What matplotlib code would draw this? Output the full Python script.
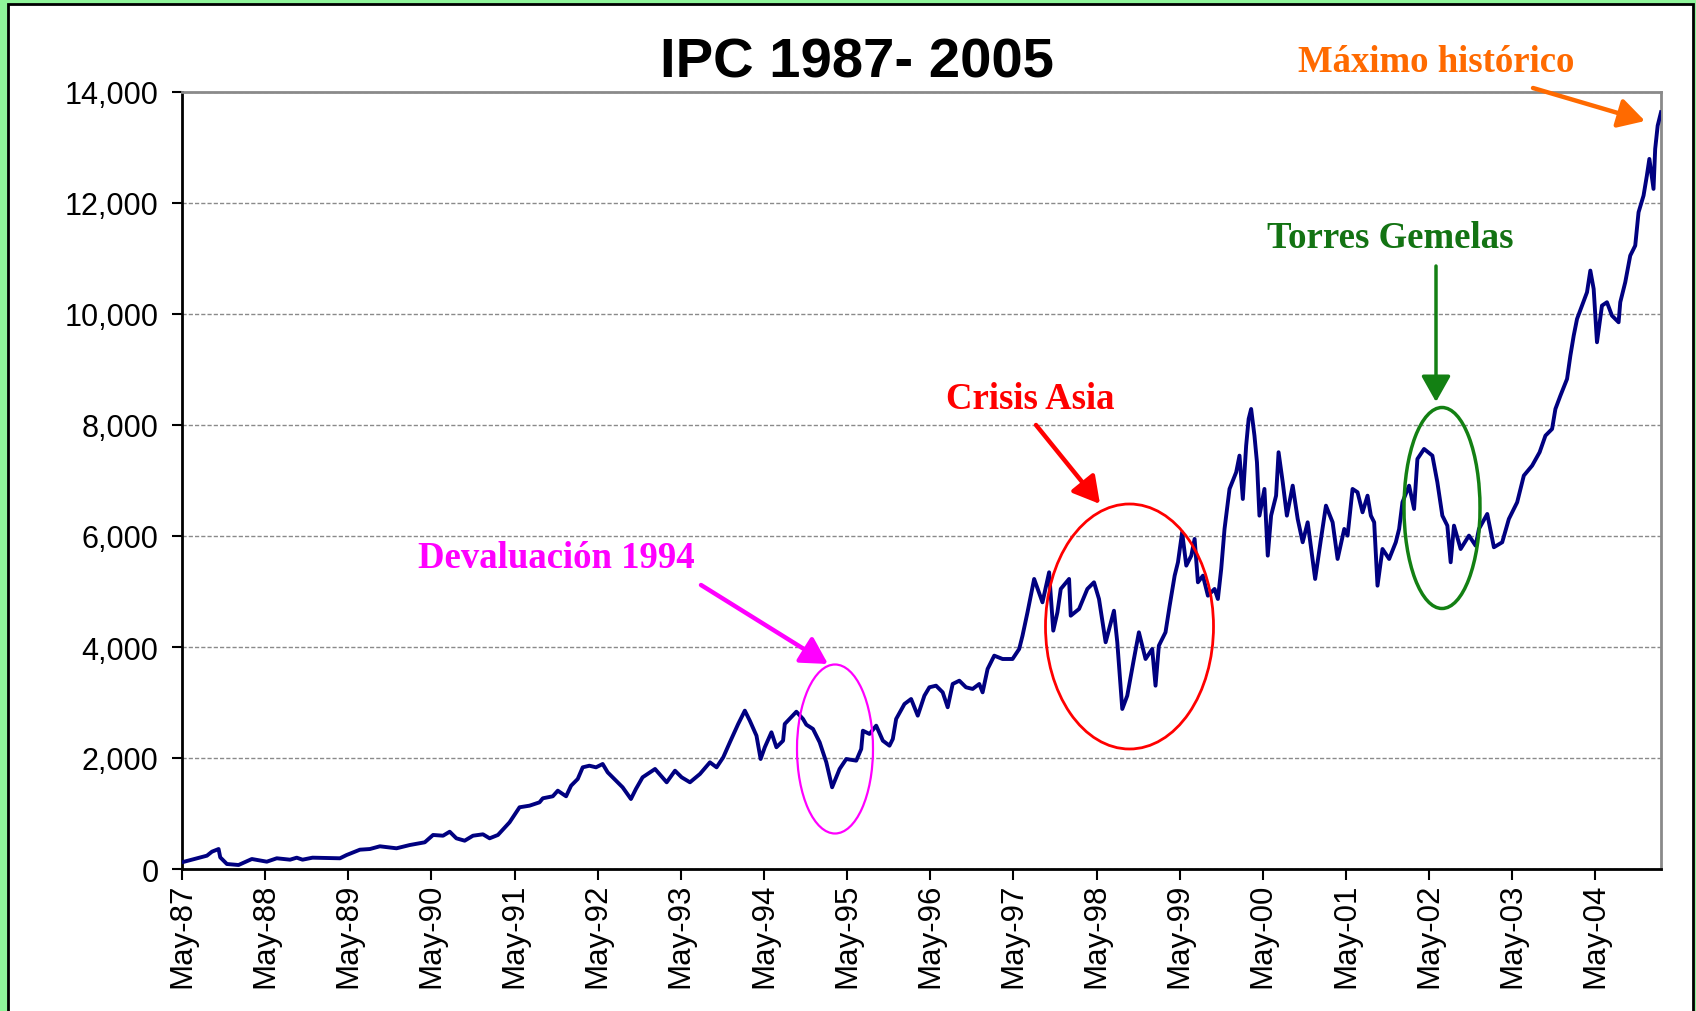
import matplotlib
matplotlib.use("Agg")
import matplotlib.pyplot as plt
from matplotlib.patches import Ellipse, Rectangle, FancyArrowPatch
from matplotlib.ticker import FuncFormatter

# ---------------- data ----------------
# time in years after May-1987
t_years = [
    0.00, 0.18, 0.30, 0.36, 0.44, 0.46, 0.54, 0.68, 0.84, 1.02, 1.14, 1.30, 1.38, 1.45, 1.57,
    1.90, 1.98, 2.14, 2.26, 2.38, 2.58, 2.74, 2.92, 3.02, 3.14, 3.22, 3.30, 3.40, 3.50, 3.62,
    3.70, 3.80, 3.94, 4.06, 4.18, 4.30, 4.34, 4.46, 4.52, 4.62, 4.68, 4.76, 4.82, 4.90, 4.98,
    5.06, 5.12, 5.20, 5.30, 5.40, 5.46, 5.54, 5.69, 5.83, 5.93, 6.01, 6.11, 6.23, 6.35, 6.43,
    6.51, 6.59, 6.69, 6.77, 6.83, 6.91, 6.96, 7.01, 7.09, 7.15, 7.23, 7.25, 7.39, 7.47, 7.51,
    7.59, 7.67, 7.75, 7.82, 7.91, 7.99, 8.11, 8.17, 8.19, 8.27, 8.35, 8.43, 8.51, 8.55, 8.59,
    8.69, 8.77, 8.85, 8.93, 8.99, 9.07, 9.15, 9.21, 9.27, 9.35, 9.43, 9.51, 9.59, 9.63, 9.69,
    9.77, 9.87, 9.99, 10.07, 10.11, 10.17, 10.25, 10.35, 10.43, 10.48, 10.53, 10.57, 10.67, 10.69,
    10.79, 10.89, 10.97, 11.03, 11.11, 11.21, 11.25, 11.31, 11.37, 11.45, 11.51, 11.59, 11.67,
    11.71, 11.75, 11.83, 11.88, 11.94, 11.98, 12.03, 12.08, 12.14, 12.18, 12.22, 12.28, 12.34,
    12.42, 12.46, 12.50, 12.54, 12.60, 12.68, 12.72, 12.76, 12.80, 12.83, 12.86, 12.90, 12.93,
    12.96, 13.02, 13.06, 13.10, 13.16, 13.19, 13.24, 13.29, 13.36, 13.42, 13.48, 13.54, 13.63,
    13.70, 13.76, 13.84, 13.90, 13.98, 14.02, 14.08, 14.14, 14.20, 14.26, 14.30, 14.34, 14.38,
    14.44, 14.52, 14.60, 14.64, 14.68, 14.76, 14.82, 14.86, 14.94, 15.04, 15.10, 15.16, 15.22,
    15.26, 15.30, 15.38, 15.48, 15.56, 15.60, 15.70, 15.78, 15.88, 15.96, 16.06, 16.14, 16.24,
    16.33, 16.40, 16.48, 16.52, 16.58, 16.66, 16.70, 16.74, 16.78, 16.84, 16.90, 16.94, 16.98,
    17.02, 17.08, 17.14, 17.20, 17.28, 17.30, 17.36, 17.42, 17.48, 17.52, 17.58, 17.62, 17.65,
    17.70, 17.72, 17.75, 17.79,
]
ipc_values = [
    121, 193, 240, 312, 360, 210, 90, 72, 180, 132, 193, 168, 204, 168, 204,
    193, 252, 348, 360, 409, 373, 432, 481, 613, 600, 672, 553, 510, 600, 625,
    553, 613, 841, 1112, 1141, 1201, 1274, 1310, 1411, 1310, 1501, 1622, 1832, 1861, 1832,
    1892, 1742, 1622, 1472, 1261, 1442, 1652, 1802, 1562, 1771, 1652, 1562, 1712, 1922, 1832,
    2012, 2283, 2613, 2853, 2672, 2402, 1982, 2193, 2463, 2193, 2312, 2613, 2834, 2703, 2600,
    2523, 2283, 1923, 1472, 1802, 1982, 1952, 2162, 2492, 2433, 2583, 2312, 2222, 2343, 2703,
    2973, 3063, 2763, 3123, 3274, 3303, 3183, 2914, 3334, 3393, 3274, 3244, 3334, 3183, 3604,
    3844, 3784, 3784, 3964, 4204, 4625, 5226, 4805, 5346, 4295, 4625, 5046, 5226, 4564,
    4685, 5046, 5166, 4865, 4085, 4654, 4085, 2883, 3123, 3784, 4265, 3784, 3964,
    3303, 4024, 4265, 4745, 5285, 5527, 6067, 5466, 5646, 5947, 5166, 5285, 4925,
    5046, 4865, 5406, 6127, 6848, 7148, 7448, 6667, 7628, 8109, 8289, 7808, 7329,
    6367, 6848, 5646, 6367, 6727, 7509, 6968, 6367, 6907, 6307, 5887, 6247, 5226,
    5947, 6547, 6247, 5586, 6127, 6007, 6848, 6788, 6427, 6727, 6367, 6247, 5105,
    5766, 5586, 5887, 6127, 6608, 6907, 6487, 7388, 7568, 7448, 6968, 6367, 6187,
    5527, 6187, 5766, 6007, 5826, 6127, 6397, 5797, 5887, 6307, 6608, 7088, 7268,
    7509, 7808, 7929, 8289, 8529, 8830, 9250, 9610, 9911, 10151, 10392, 10782, 10452,
    9491, 10151, 10212, 9971, 9851, 10212, 10572, 11052, 11232, 11833, 12133, 12493, 12794,
    12254, 12974, 13394, 13635,
]
x_tick_labels = ["May-87", "May-88", "May-89", "May-90", "May-91", "May-92", "May-93",
                 "May-94", "May-95", "May-96", "May-97", "May-98", "May-99", "May-00",
                 "May-01", "May-02", "May-03", "May-04"]
y_ticks = [0, 2000, 4000, 6000, 8000, 10000, 12000, 14000]

title = "IPC 1987- 2005"
notes = ["Devaluación 1994", "Crisis Asia", "Torres Gemelas", "Máximo histórico"]

# ---------------- figure ----------------
W, H = 1696, 1012
fig = plt.figure(figsize=(W / 100, H / 100), dpi=100, facecolor="#8ff59a")


def fx(x):
    return x / W


def fy(y):
    return 1 - y / H


# white panel with black frame
fig.add_artist(Rectangle((fx(8), -0.02), fx(1693) - fx(8), fy(5) + 0.02,
                         transform=fig.transFigure, facecolor="white",
                         edgecolor="black", lw=2, zorder=0))

ax = fig.add_axes([fx(182), fy(870), fx(1661) - fx(182), fy(93) - fy(870)])
ax.set_facecolor("white")
ax.plot(t_years, ipc_values, color="#000080", lw=2.8, zorder=3)

ax.set_xlim(0, 17.79)
ax.set_ylim(0, 14000)
ax.set_xticks(range(len(x_tick_labels)))
ax.set_xticklabels(x_tick_labels, rotation=90, fontsize=22.5, family="Liberation Sans")
ax.set_yticks(y_ticks)
ax.yaxis.set_major_formatter(FuncFormatter(lambda v, p: f"{int(v):,}"))
for lab in ax.get_yticklabels():
    lab.set_family("Liberation Sans")
ax.tick_params(axis="y", labelsize=22, direction="out", length=7, width=1.5, pad=10)
ax.tick_params(axis="x", direction="out", length=8, width=1.5, pad=2)
ax.yaxis.grid(True, color="#8a8a8a", lw=1, ls=(0, (3, 1.5)))
ax.set_axisbelow(True)
for s in ["left", "bottom"]:
    ax.spines[s].set_color("black")
    ax.spines[s].set_linewidth(2)
for s in ["top", "right"]:
    ax.spines[s].set_color("#8a8a8a")
    ax.spines[s].set_linewidth(2)

# title
fig.text(fx(857), fy(64), title, ha="center", va="center", fontsize=40.5,
         fontweight="bold", family="Liberation Sans")

serif = dict(family="Liberation Serif", fontweight="bold", fontsize=26.5,
             ha="center", va="center")
fig.text(fx(556), fy(558), notes[0], color="#ff00ff", **serif)
fig.text(fx(1030), fy(400), notes[1], color="#ff0000", **serif)
fig.text(fx(1390), fy(238), notes[2], color="#137313", **serif)
fig.text(fx(1436), fy(63), notes[3], color="#ff6a00", **serif)

# ellipses
fig.add_artist(Ellipse((fx(835), fy(750)), fx(76), 169 / H, transform=fig.transFigure,
                       fill=False, edgecolor="#ff00ff", lw=1.6, zorder=5))
fig.add_artist(Ellipse((fx(1129.5), fy(627.5)), fx(168), 245 / H, transform=fig.transFigure,
                       fill=False, edgecolor="#ff0000", lw=2.0, zorder=5))
fig.add_artist(Ellipse((fx(1442), fy(509)), fx(76), 201 / H, transform=fig.transFigure,
                       fill=False, edgecolor="#138013", lw=2.5, zorder=5))


def arrow(x0, y0, x1, y1, color, lw):
    fig.add_artist(FancyArrowPatch((fx(x0), fy(y0)), (fx(x1), fy(y1)),
                                   transform=fig.transFigure,
                                   arrowstyle="-|>,head_length=0.8,head_width=0.45",
                                   mutation_scale=20, lw=lw, color=color,
                                   shrinkA=0, shrinkB=0, zorder=6))


arrow(701, 586, 828, 665, "#ff00ff", 3.2)
arrow(1036, 426, 1100, 505, "#ff0000", 3.2)
arrow(1436, 267, 1436, 403, "#138013", 2.5)
arrow(1533, 89, 1645, 122, "#ff6a00", 3.2)

fig.savefig("out.png", dpi=100, facecolor=fig.get_facecolor())
